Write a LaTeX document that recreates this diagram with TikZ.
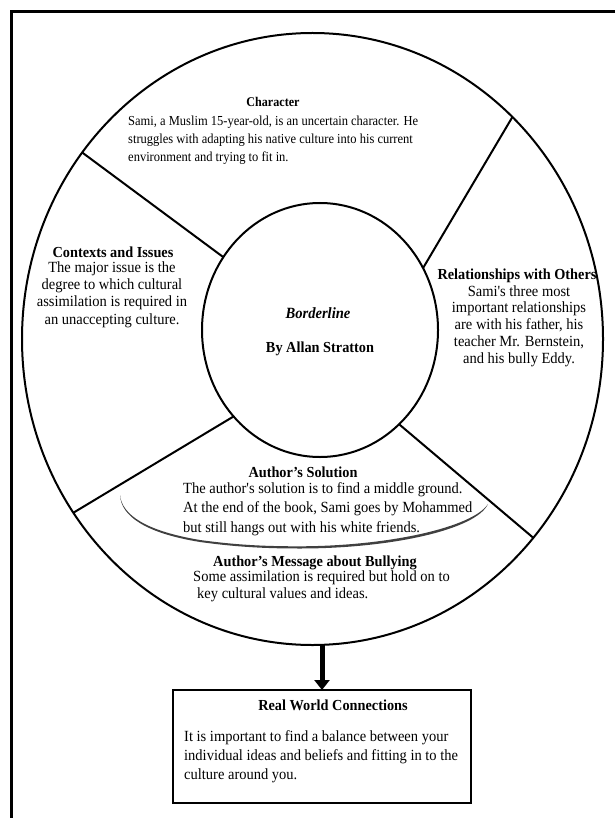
\documentclass[tikz,border=0pt]{standalone}
\usepackage{fontspec}
\usepackage{graphicx}
\setmainfont{Liberation Serif}[Ligatures=TeXOff]
\usetikzlibrary{shapes.geometric,arrows.meta}
\newcommand{\tallL}[2][1.07]{\scalebox{1}[#1]{\begin{tabular}[b]{@{}l@{}}#2\end{tabular}}}
\newcommand{\tallC}[2][1.07]{\scalebox{1}[#1]{\begin{tabular}[b]{@{}c@{}}#2\end{tabular}}}
\begin{document}
\begin{tikzpicture}[x=1pt,y=-1pt,
  ring/.style={draw, line width=2pt, shape=ellipse, inner sep=0pt, outer sep=0pt},
  divider/.style={line width=2pt},
  hd/.style={font=\fontsize{14.3}{17}\selectfont\bfseries, inner sep=0pt, anchor=base},
  sidetext/.style={font=\fontsize{14.5}{15.9}\selectfont, inner sep=0pt, anchor=base},
  lefttext/.style={font=\fontsize{14.5}{18.2}\selectfont, inner sep=0pt, anchor=base west},
]
\useasboundingbox (0,0) rectangle (615,818);
% page frame (cropped)
\draw[line width=3pt] (615,12) -- (11,12) -- (11,818);

% rings
\node[ring, minimum width=581pt, minimum height=612pt] (outer) at (312.5,339) {};
\node[ring, minimum width=236pt, minimum height=254pt] (inner) at (320,330) {};

% dividers
\draw[divider] (outer.141.7) -- (inner.143.3);
\draw[divider] (outer.48.5) -- (inner.31.5);
\draw[divider] (outer.216.8) -- (inner.225.6);
\draw[divider] (outer.318.6) -- (inner.310.2);

% swoosh under author's solution
\fill[black!75] (120,495) .. controls (121,516) and (145,533) .. (200,542)
  .. controls (240,547.5) and (270,548.5) .. (300,548.5)
  .. controls (390,548.5) and (476,530) .. (488,504)
  .. controls (473,527) and (390,546) .. (300,546.3)
  .. controls (270,546.3) and (240,545.5) .. (200,540)
  .. controls (146,531) and (122,515) .. (120,495) -- cycle;

% centre
\node[font=\fontsize{14.6}{17}\selectfont\bfseries\itshape, inner sep=0pt, anchor=base] (title) at (318,318) {\tallC{Borderline}};
\node[hd] (author) at (320,352) {\tallC{By Allan Stratton}};

% Character
\node[hd, font=\fontsize{12.1}{17}\selectfont\bfseries] (charh) at (273,107) {\tallC[1.1]{Character}};
\node[lefttext, font=\fontsize{12.5}{16.8}\selectfont] (charb) at (128,162)
  {\tallL[1.1]{Sami, a Muslim 15-year-old, is an uncertain character. He\\
   struggles with adapting his native culture into his current\\
   environment and trying to fit in.}};

% Contexts and Issues
\node[hd] (ctxh) at (113,257) {\tallC{Contexts and Issues}};
\node[sidetext] (ctxb) at (112,324)
  {\tallC{The major issue is the\\ degree to which cultural\\ assimilation is required in\\ an unaccepting culture.}};

% Relationships
\node[hd] (relh) at (517,279) {\tallC{Relationships with Others}};
\node[sidetext, font=\fontsize{14.5}{15.7}\selectfont] (relb) at (519,363.2)
  {\tallC{Sami's three most\\ important relationships\\ are with his father, his\\ teacher Mr. Bernstein,\\ and his bully Eddy.}};

% Author's Solution
\node[hd] (solh) at (303,477) {\tallC{Author’s Solution}};
\node[lefttext] (solb) at (183,532)
  {\tallL{The author's solution is to find a middle ground.\\
   At the end of the book, Sami goes by Mohammed\\
   but still hangs out with his white friends.}};

% Author's Message
\node[hd] (msgh) at (315,566) {\tallC{Author’s Message about Bullying}};
\node[lefttext, font=\fontsize{14.5}{15}\selectfont] (msgb) at (193,598)
  {\tallL{Some assimilation is required but hold on to\\
   \hspace*{4pt}key cultural values and ideas.}};

% Real world box
\node[draw, line width=2.5pt, minimum width=298pt, minimum height=113pt, inner sep=0pt, outer sep=0pt] (box) at (322,746.5) {};
\node[hd] (realh) at (333,710) {\tallC{Real World Connections}};
\node[lefttext, font=\fontsize{14.5}{17.3}\selectfont] (realb) at (184,779)
  {\tallL{It is important to find a balance between your\\
   individual ideas and beliefs and fitting in to the\\
   culture around you.}};

% arrow
\draw[line width=5pt, -{Triangle[width=15pt,length=10pt]}] (box.north |- outer.south) -- (box.north);
\end{tikzpicture}
\end{document}
